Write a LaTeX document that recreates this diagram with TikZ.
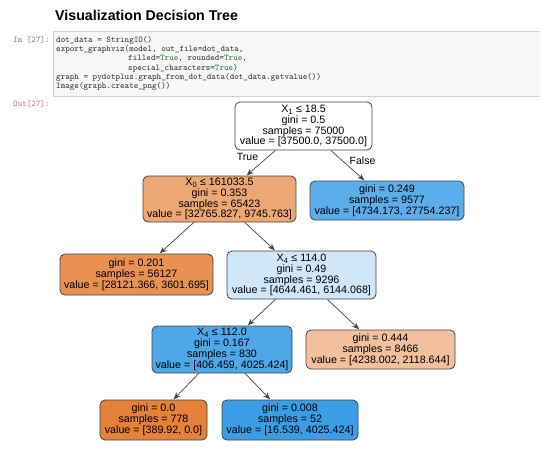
\documentclass[tikz,border=0pt]{standalone}
\usepackage{fontspec}
\setmainfont{Liberation Sans}
\usetikzlibrary{arrows.meta}
\definecolor{cell-fill}{HTML}{F7F7F7}
\definecolor{cell-line}{HTML}{D2D2D2}
\definecolor{prompt-in}{HTML}{7C7C7C}
\definecolor{prompt-out}{HTML}{C57A72}
\definecolor{code-text}{HTML}{333333}
\definecolor{code-true}{HTML}{1F8A2A}
\definecolor{tree-line}{HTML}{444444}
\definecolor{tree-fill-0}{RGB}{255,255,255}
\definecolor{tree-fill-1}{RGB}{237,167,116}
\definecolor{tree-fill-2}{RGB}{91,174,234}
\definecolor{tree-fill-3}{RGB}{232,145,82}
\definecolor{tree-fill-4}{RGB}{207,231,249}
\definecolor{tree-fill-5}{RGB}{77,167,232}
\definecolor{tree-fill-6}{RGB}{242,192,156}
\definecolor{tree-fill-7}{RGB}{229,129,57}
\definecolor{tree-fill-8}{RGB}{58,158,229}
\newcommand{\codeline}{\fontsize{8.7}{9.2}\selectfont\ttfamily\color{code-text}}
\newcommand{\kwtrue}{\textcolor{code-true}{True}}

\begin{document}
\begin{tikzpicture}[x=1pt,y=-1pt,
  tree-box/.style={draw=tree-line,line width=0.8pt,rounded corners=5pt,align=center,inner sep=1pt,
    font=\fontsize{10.7}{10.8}\selectfont},
  tree-edge/.style={draw=tree-line,line width=0.7pt,-{Stealth[length=7pt,width=5.5pt]},shorten >=0.4pt},
  edge-label/.style={font=\fontsize{10.5}{11}\selectfont,inner sep=0pt},
  code-row/.style={anchor=base west,inner sep=0pt,font=\codeline}]
\useasboundingbox (0,0) rectangle (540,450);
\path[fill=white] (0,0) rectangle (540,450);
\node[anchor=base west,inner sep=0pt,font=\fontsize{14.2}{16}\selectfont\bfseries] (page-title) at (55,20) {Visualization Decision Tree};
\path[fill=cell-fill,draw=cell-line,line width=0.7pt] (53,31) rectangle (542,96);
\node[anchor=base west,inner sep=0pt,font=\fontsize{8.7}{9}\selectfont\ttfamily,text=prompt-in] (prompt-in-0) at (13,42.5) {In [27]:};
\node[code-row] (code-row-0) at (56,42.5) {dot\_data = StringIO()};
\node[code-row] (code-row-1) at (56,51.7) {export\_graphviz(model, out\_file=dot\_data,};
\node[code-row] (code-row-2) at (128,60.8) {filled=\kwtrue, rounded=\kwtrue,};
\node[code-row] (code-row-3) at (128,70) {special\_characters=\kwtrue)};
\node[code-row] (code-row-4) at (56,79.2) {graph = pydotplus.graph\_from\_dot\_data(dot\_data.getvalue())};
\node[code-row] (code-row-5) at (56,88.3) {Image(graph.create\_png())};
\node[anchor=base west,inner sep=0pt,font=\fontsize{8.7}{9}\selectfont\ttfamily,text=prompt-out] (prompt-out-0) at (13,106.5) {Out[27]:};
\node[tree-box,fill=tree-fill-0,minimum width=137pt,minimum height=48pt] (tree-node-0) at (303.5,126) {X\textsubscript{1} ≤ 18.5\\gini = 0.5\\samples = 75000\\value = [37500.0, 37500.0]};
\node[tree-box,fill=tree-fill-1,minimum width=153pt,minimum height=46pt] (tree-node-1) at (219.5,199) {X\textsubscript{0} ≤ 161033.5\\gini = 0.353\\samples = 65423\\value = [32765.827, 9745.763]};
\node[tree-box,fill=tree-fill-2,minimum width=154pt,minimum height=39pt] (tree-node-2) at (387,200.5) {gini = 0.249\\samples = 9577\\value = [4734.173, 27754.237]};
\node[tree-box,fill=tree-fill-3,minimum width=153pt,minimum height=41pt] (tree-node-3) at (136.5,274.5) {gini = 0.201\\samples = 56127\\value = [28121.366, 3601.695]};
\node[tree-box,fill=tree-fill-4,minimum width=149pt,minimum height=48pt] (tree-node-4) at (301.5,275) {X\textsubscript{4} ≤ 114.0\\gini = 0.49\\samples = 9296\\value = [4644.461, 6144.068]};
\node[tree-box,fill=tree-fill-5,minimum width=140pt,minimum height=47pt] (tree-node-5) at (222,349.5) {X\textsubscript{4} ≤ 112.0\\gini = 0.167\\samples = 830\\value = [406.459, 4025.424]};
\node[tree-box,fill=tree-fill-6,minimum width=149pt,minimum height=39pt] (tree-node-6) at (380.5,349.5) {gini = 0.444\\samples = 8466\\value = [4238.002, 2118.644]};
\node[tree-box,fill=tree-fill-7,minimum width=107pt,minimum height=40pt] (tree-node-7) at (153.5,420) {gini = 0.0\\samples = 778\\value = [389.92, 0.0]};
\node[tree-box,fill=tree-fill-8,minimum width=136pt,minimum height=40pt] (tree-node-8) at (290,420) {gini = 0.008\\samples = 52\\value = [16.539, 4025.424]};
\draw[tree-edge] (tree-node-0) -- (tree-node-1);
\draw[tree-edge] (tree-node-0) -- (tree-node-2);
\draw[tree-edge] (tree-node-1) -- (tree-node-3);
\draw[tree-edge] (tree-node-1) -- (tree-node-4);
\draw[tree-edge] (tree-node-4) -- (tree-node-5);
\draw[tree-edge] (tree-node-4) -- (tree-node-6);
\draw[tree-edge] (tree-node-5) -- (tree-node-7);
\draw[tree-edge] (tree-node-5) -- (tree-node-8);
\node[edge-label] (edge-label-true) at (247.5,157) {True};
\node[edge-label] (edge-label-false) at (362.5,161) {False};
\end{tikzpicture}
\end{document}
